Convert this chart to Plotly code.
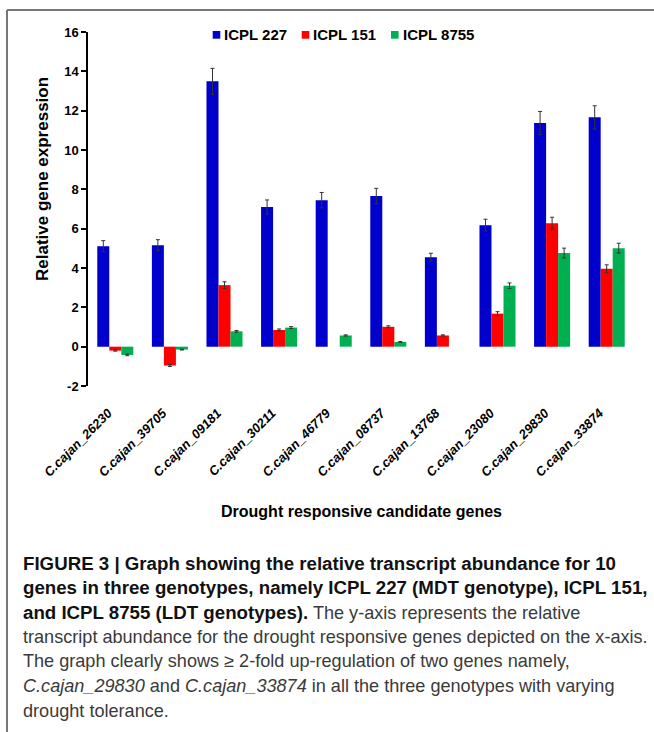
import plotly.graph_objects as go

genes = ["C.cajan_26230", "C.cajan_39705", "C.cajan_09181", "C.cajan_30211", "C.cajan_46779",
         "C.cajan_08737", "C.cajan_13768", "C.cajan_23080", "C.cajan_29830", "C.cajan_33874"]
series_names = ["ICPL 227", "ICPL 151", "ICPL 8755"]
icpl227 = [5.11, 5.16, 13.49, 7.10, 7.45, 7.66, 4.55, 6.18, 11.37, 11.66]
icpl227_err = [0.28, 0.28, 0.66, 0.36, 0.39, 0.39, 0.20, 0.30, 0.59, 0.59]
icpl151 = [-0.20, -0.96, 3.13, 0.85, None, 1.01, 0.57, 1.68, 6.28, 3.96]
icpl151_err = [0.03, 0.05, 0.17, 0.05, None, 0.05, 0.03, 0.10, 0.30, 0.20]
icpl8755 = [-0.42, -0.15, 0.78, 0.97, 0.57, 0.24, None, 3.10, 4.76, 5.01]
icpl8755_err = [0.04, 0.02, 0.04, 0.05, 0.03, 0.02, None, 0.14, 0.25, 0.25]
colors = ["#0000CC", "#FF0000", "#00B050"]
y_ticks = [-2, 0, 2, 4, 6, 8, 10, 12, 14, 16]

caption_lines = [
    "<b>FIGURE 3 | Graph showing the relative transcript abundance for 10</b>",
    "<b>genes in three genotypes, namely ICPL 227 (MDT genotype), ICPL 151,</b>",
    "<b>and ICPL 8755 (LDT genotypes).</b> The y-axis represents the relative",
    "transcript abundance for the drought responsive genes depicted on the x-axis.",
    "The graph clearly shows \u2265 2-fold up-regulation of two genes namely,",
    "<i>C.cajan_29830</i> and <i>C.cajan_33874</i> in all the three genotypes with varying",
    "drought tolerance.",
]

W, H = 654, 732
L, R, T, B = 88, 634, 32, 386


def px(x):
    return (x - L) / (R - L)


def py(y):
    return (B - y) / (B - T)


n = len(genes)
idx = list(range(n))

fig = go.Figure()
for name, vals, errs, col in zip(series_names, [icpl227, icpl151, icpl8755],
                                 [icpl227_err, icpl151_err, icpl8755_err], colors):
    fig.add_trace(go.Bar(
        x=idx, y=vals, name=name, customdata=genes, hovertemplate="%{customdata}: %{y}",
        marker=dict(color=col, line=dict(width=0)),
        error_y=dict(type="data", array=errs, visible=True, color="#333333", thickness=1, width=2),
    ))

font_main = "Liberation Sans, Arial, sans-serif"
annotations = []
shapes = [
    dict(type="line", xref="paper", yref="paper", x0=px(7), x1=px(654), y0=py(10), y1=py(10),
         line=dict(color="#777", width=2)),
    dict(type="line", xref="paper", yref="paper", x0=px(7), x1=px(7), y0=py(10), y1=py(732),
         line=dict(color="#777", width=2)),
]

# legend (swatch + label)
legend_x = [212.7, 301.7, 391.0]
for name, col, lx in zip(series_names, colors, legend_x):
    shapes.append(dict(type="rect", xref="paper", yref="paper", x0=px(lx), x1=px(lx + 7.6),
                       y0=py(38.7), y1=py(31), fillcolor=col, line=dict(width=0)))
    annotations.append(dict(text="<b>%s</b>" % name, xref="paper", yref="paper", x=px(lx + 9.6),
                            y=py(35), xanchor="left", yanchor="middle", showarrow=False,
                            font=dict(size=15, color="#000", family=font_main)))

annotations.append(dict(text="<b>Drought responsive candidate genes</b>", xref="paper", yref="paper",
                        x=px(361), y=py(511), xanchor="center", yanchor="middle", showarrow=False,
                        font=dict(size=16, color="#000", family=font_main)))
annotations.append(dict(text="<b>Relative gene expression</b>", xref="paper", yref="paper",
                        x=px(42), y=py(179), xanchor="center", yanchor="middle", textangle=-90,
                        showarrow=False, font=dict(size=17, color="#000", family=font_main)))
for i, line in enumerate(caption_lines):
    line = line.replace("<b>", "<b><span style='color:#111;font-size:18.7px'>").replace("</b>", "</span></b>")
    annotations.append(dict(text=line, xref="paper", yref="paper", x=px(21), y=py(563 + 24.6 * i),
                            xanchor="left", yanchor="middle", showarrow=False, align="left",
                            font=dict(size=18.1, color="#3a3a3a", family=font_main)))

label_offset = -0.13  # tick labels sit slightly left of the category centres
fig.update_layout(
    width=W, height=H,
    margin=dict(l=L, r=W - R, t=T, b=H - B, pad=0),
    paper_bgcolor="white", plot_bgcolor="white",
    barmode="group", bargap=0.34, bargroupgap=0,
    font=dict(family=font_main, color="#000"),
    showlegend=False,
    xaxis=dict(range=[-0.5, n - 0.5], tickmode="array",
               tickvals=[k + label_offset for k in idx], ticktext=genes, tickangle=-45,
               showline=False, ticks="", ticklabelstandoff=16, showgrid=False, zeroline=False,
               fixedrange=True,
               tickfont=dict(size=13, color="#000", family=font_main, weight="bold", style="italic")),
    xaxis2=dict(overlaying="x", anchor="free", position=py(347), range=[-0.5, n - 0.5],
                tickvals=[k - 0.5 for k in range(n + 1)], showticklabels=False,
                showline=True, linecolor="#000", linewidth=1.5, ticks="outside", ticklen=5,
                tickcolor="#000", tickwidth=1.5, showgrid=False, zeroline=False, fixedrange=True),
    yaxis=dict(range=[-2, 16], tickvals=y_ticks, ticktext=[str(v) for v in y_ticks],
               showline=True, linecolor="#000", linewidth=1.5,
               ticks="outside", ticklen=5, tickcolor="#000", tickwidth=1.5, showgrid=False,
               zeroline=False, fixedrange=True,
               tickfont=dict(size=13, color="#000", family=font_main, weight="bold")),
    annotations=annotations, shapes=shapes,
)
fig.write_html("out.html", config={"displayModeBar": False},
               post_script="document.body.style.margin='0px';")
